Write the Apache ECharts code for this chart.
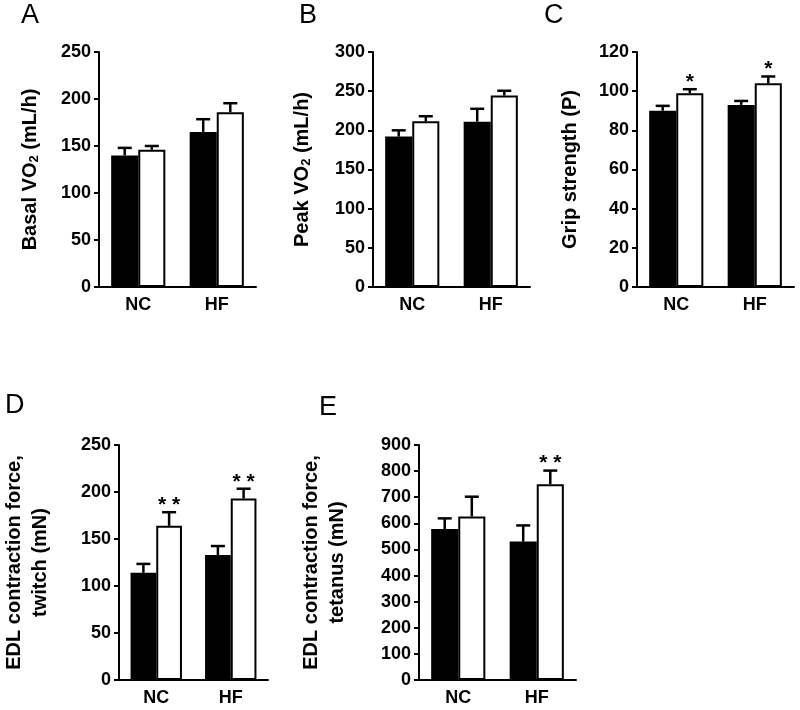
<!DOCTYPE html>
<html>
<head>
<meta charset="utf-8">
<script src="https://cdn.jsdelivr.net/npm/echarts@6/dist/echarts.min.js"></script>
<style>
html,body{margin:0;padding:0;background:#fff;}
#chart{width:800px;height:710px;}
</style>
</head>
<body>
<div id="chart"></div>
<script>
const categories = ['NC', 'HF'];

// Panel A: Basal VO2 (mL/h)
const basalBlack = [140, 165];
const basalBlackSem = [8, 13.5];
const basalWhite = [146, 186];
const basalWhiteSem = [4, 9.5];

// Panel B: Peak VO2 (mL/h)
const peakBlack = [192, 211];
const peakBlackSem = [8, 16.5];
const peakWhite = [211.5, 244.5];
const peakWhiteSem = [6.5, 6];

// Panel C: Grip strength (P)
const gripBlack = [90, 93];
const gripBlackSem = [2.5, 2];
const gripWhite = [99, 104];
const gripWhiteSem = [2, 3.5];
const gripStars = ['*', '*'];

// Panel D: EDL twitch (mN)
const twitchBlack = [114, 133];
const twitchBlackSem = [9.5, 9.5];
const twitchWhite = [164, 193];
const twitchWhiteSem = [14.5, 10.5];
const twitchStars = ['**', '**'];

// Panel E: EDL tetanus (mN)
const tetanusBlack = [578, 530];
const tetanusBlackSem = [41, 62];
const tetanusWhite = [626, 750];
const tetanusWhiteSem = [76, 52];
const tetanusStars = ['', '**'];

// Axis ranges / tick labels
const yMax = [250, 300, 120, 250, 900];
const yInterval = [50, 50, 20, 50, 100];
const panelLetters = ['A', 'B', 'C', 'D', 'E'];

const FONT = '"Liberation Sans", Arial, Helvetica, sans-serif';
const CAT_GAP = 0.31;

const panels = [
  {black: basalBlack, bSem: basalBlackSem, white: basalWhite, wSem: basalWhiteSem, stars: ['', ''],
   name: '{a|Basal VO}{s|2}{a| (mL/h)}', gap: 56},
  {black: peakBlack, bSem: peakBlackSem, white: peakWhite, wSem: peakWhiteSem, stars: ['', ''],
   name: '{a|Peak VO}{s|2}{a| (mL/h)}', gap: 58},
  {black: gripBlack, bSem: gripBlackSem, white: gripWhite, wSem: gripWhiteSem, stars: gripStars,
   name: 'Grip strength (P)', gap: 54},
  {black: twitchBlack, bSem: twitchBlackSem, white: twitchWhite, wSem: twitchWhiteSem, stars: twitchStars,
   name: 'EDL contraction force,\ntwitch (mN)', gap: 66},
  {black: tetanusBlack, bSem: tetanusBlackSem, white: tetanusWhite, wSem: tetanusWhiteSem, stars: tetanusStars,
   name: 'EDL contraction force,\ntetanus (mN)', gap: 69}
];

const gridPos = [
  {left: 99, top: 52}, {left: 373, top: 52}, {left: 637, top: 52},
  {left: 111, top: 445}, {left: 419, top: 445}
];
const letterPos = [
  {left: 21, top: 2}, {left: 299, top: 2}, {left: 544, top: 2},
  {left: 5, top: 392}, {left: 319, top: 394}
];

const grids = [], xAxes = [], yAxes = [], series = [], titles = [];

panels.forEach((p, i) => {
  grids.push({left: gridPos[i].left, top: gridPos[i].top, width: 157, height: 235, containLabel: false});
  xAxes.push({
    type: 'category', gridIndex: i, data: categories,
    axisLine: {lineStyle: {color: '#000', width: 2}},
    axisTick: {show: false},
    axisLabel: {color: '#000', fontSize: 18, fontWeight: 'bold', fontFamily: FONT, margin: 9}
  });
  yAxes.push({
    type: 'value', gridIndex: i, min: 0, max: yMax[i], interval: yInterval[i],
    splitLine: {show: false},
    axisLine: {show: true, lineStyle: {color: '#000', width: 2}},
    axisTick: {show: true, length: 5, lineStyle: {color: '#000', width: 2}},
    axisLabel: {color: '#000', fontSize: 18, fontWeight: 'bold', fontFamily: FONT, margin: 8},
    name: p.name, nameLocation: 'middle', nameRotate: 90, nameGap: p.gap,
    nameTextStyle: {
      color: '#000', fontSize: 20, fontWeight: 'bold', fontFamily: FONT, lineHeight: 26,
      rich: {
        a: {color: '#000', fontSize: 20, fontWeight: 'bold', fontFamily: FONT},
        s: {color: '#000', fontSize: 13, fontWeight: 'bold', fontFamily: FONT, padding: [9, 0, 0, 0]}
      }
    }
  });
  series.push({
    type: 'bar', xAxisIndex: i, yAxisIndex: i, data: p.black,
    barGap: '0%', barCategoryGap: (CAT_GAP * 100) + '%',
    itemStyle: {color: '#000', borderColor: '#000', borderWidth: 2},
    silent: true
  });
  series.push({
    type: 'bar', xAxisIndex: i, yAxisIndex: i, data: p.white,
    barGap: '0%', barCategoryGap: (CAT_GAP * 100) + '%',
    itemStyle: {color: '#fff', borderColor: '#000', borderWidth: 2},
    silent: true
  });
  const errData = [];
  p.black.forEach((v, k) => errData.push([k, v, v + p.bSem[k], -1]));
  p.white.forEach((v, k) => errData.push([k, v, v + p.wSem[k], 1]));
  const labels = ['', ''].concat(p.stars);
  series.push({
    type: 'custom', xAxisIndex: i, yAxisIndex: i, data: errData, silent: true, z: 5,
    renderItem: function (params, api) {
      const cat = api.value(0), mean = api.value(1), top = api.value(2), side = api.value(3);
      const band = api.size([1, 0])[0];
      const barW = band * (1 - CAT_GAP) / 2;
      const x = api.coord([cat, mean])[0] + side * barW / 2;
      const y0 = api.coord([cat, mean])[1];
      const y1 = api.coord([cat, top])[1];
      const children = [
        {type: 'line', shape: {x1: x, y1: y0, x2: x, y2: y1}, style: {stroke: '#000', lineWidth: 2.5}},
        {type: 'line', shape: {x1: x - 7, y1: y1, x2: x + 7, y2: y1}, style: {stroke: '#000', lineWidth: 2.5}}
      ];
      const star = labels[params.dataIndex];
      if (star) {
        children.push({type: 'text', x: x, y: y1 - 7,
          style: {text: star.split('').join(' '), fill: '#000', fontSize: 21, fontWeight: 'bold',
                  fontFamily: FONT, align: 'center', verticalAlign: 'middle'}});
      }
      return {type: 'group', children: children};
    }
  });
  titles.push({
    text: panelLetters[i], left: letterPos[i].left, top: letterPos[i].top, padding: 0,
    textStyle: {color: '#000', fontSize: 27, fontWeight: 'normal', fontFamily: FONT}
  });
});

const chart = echarts.init(document.getElementById('chart'), null, {renderer: 'canvas'});
chart.setOption({
  backgroundColor: '#fff',
  animation: false,
  title: titles,
  grid: grids,
  xAxis: xAxes,
  yAxis: yAxes,
  series: series
});
</script>
</body>
</html>
